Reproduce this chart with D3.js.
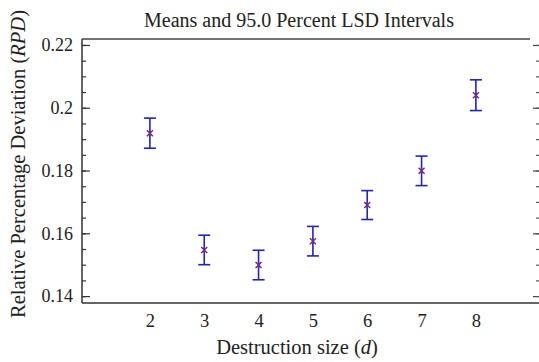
<!DOCTYPE html>
<html>
<head>
<meta charset="utf-8">
<script src="https://cdn.jsdelivr.net/npm/d3@7"></script>
<style>
  body { margin: 0; background: #fff; }
  svg { display: block; font-family: "Liberation Serif", "Times New Roman", serif; }
</style>
</head>
<body>
<div id="chart"></div>
<script>
// destruction sizes and their means with LSD half-width
var sizes = [2, 3, 4, 5, 6, 7, 8];
var means = [0.1919, 0.1547, 0.1499, 0.1575, 0.1690, 0.1799, 0.2040];
var halfLSD = [0.0048, 0.0047, 0.0047, 0.0047, 0.0046, 0.0047, 0.0049];
var yTicks = [0.14, 0.16, 0.18, 0.2, 0.22];
var yTickLabels = ["0.14", "0.16", "0.18", "0.2", "0.22"];
var yMinor = d3.range(0.14, 0.2201, 0.005);

var W = 539, H = 362;
var plotLeft = 82, plotTop = 39, plotBottom = 303;

var svg = d3.select("#chart")
  .append("svg")
  .attr("width", W)
  .attr("height", H);

var x = d3.scaleLinear()
  .domain([0.75, 9.25])
  .range([plotLeft, plotLeft + 8.5 * 54.33]);

var y = d3.scaleLinear()
  .domain([0.1378, 0.2219])
  .range([plotBottom, plotTop]);

// frame: top border line
svg.append("line")
  .attr("x1", plotLeft).attr("x2", 530)
  .attr("y1", plotTop).attr("y2", plotTop)
  .attr("stroke", "#444").attr("stroke-width", 1.5);

// bottom axis, labels only
var xAxis = svg.append("g")
  .attr("transform", "translate(0," + plotBottom + ")")
  .call(d3.axisBottom(x).tickValues(sizes).tickSize(0).tickPadding(11).tickFormat(d3.format("d")))
  .attr("font-family", null).attr("font-size", 18.5);
xAxis.select(".domain").attr("d", "M" + plotLeft + ",0H" + W).attr("stroke", "#333").attr("stroke-width", 1.5);
xAxis.selectAll("text").attr("fill", "#222");

// left axis, ticks pointing in
var yAxis = svg.append("g")
  .attr("transform", "translate(" + plotLeft + ",0)")
  .call(d3.axisLeft(y).tickValues(yTicks).tickSizeInner(-8).tickSizeOuter(0).tickPadding(9)
    .tickFormat(function(d, i) { return yTickLabels[i]; }))
  .attr("font-family", null).attr("font-size", 18);
yAxis.select(".domain").attr("d", "M0," + plotTop + "V" + plotBottom).attr("stroke", "#333").attr("stroke-width", 1.5);
yAxis.selectAll(".tick line").attr("stroke", "#333").attr("stroke-width", 1.2);
yAxis.selectAll("text").attr("fill", "#222");

svg.append("g")
  .attr("transform", "translate(" + plotLeft + ",0)")
  .call(d3.axisLeft(y).tickValues(yMinor).tickSizeInner(-4).tickSizeOuter(0).tickFormat(""))
  .call(function(g) { g.select(".domain").remove(); })
  .selectAll("line").attr("stroke", "#333").attr("stroke-width", 1.2);

// right side ticks
var rMajor = svg.append("g")
  .attr("transform", "translate(539,0)")
  .call(d3.axisLeft(y).tickValues(yTicks).tickSize(6).tickFormat(""));
rMajor.select(".domain").remove();
rMajor.selectAll("line").attr("stroke", "#444").attr("stroke-width", 1.2);

var rMinor = svg.append("g")
  .attr("transform", "translate(539,0)")
  .call(d3.axisLeft(y).tickValues(yMinor).tickSize(3).tickFormat(""));
rMinor.select(".domain").remove();
rMinor.selectAll("line").attr("stroke", "#555").attr("stroke-width", 1.2);

// LSD intervals
var pts = sizes.map(function(s, i) { return {s: s, m: means[i], h: halfLSD[i]}; });
var bars = svg.append("g").attr("stroke", "#2222c0").attr("stroke-width", 1.6).attr("fill", "none");

bars.selectAll(".stem").data(pts).enter().append("line")
  .attr("x1", d => x(d.s)).attr("x2", d => x(d.s))
  .attr("y1", d => y(d.m + d.h)).attr("y2", d => y(d.m - d.h));
bars.selectAll(".capT").data(pts).enter().append("line")
  .attr("x1", d => x(d.s) - 6).attr("x2", d => x(d.s) + 6)
  .attr("y1", d => y(d.m + d.h)).attr("y2", d => y(d.m + d.h));
bars.selectAll(".capB").data(pts).enter().append("line")
  .attr("x1", d => x(d.s) - 6).attr("x2", d => x(d.s) + 6)
  .attr("y1", d => y(d.m - d.h)).attr("y2", d => y(d.m - d.h));

// mean markers (small asterisk)
svg.append("g").selectAll("path").data(pts).enter().append("path")
  .attr("d", function(d) {
    var cx = x(d.s), cy = y(d.m), r = 3;
    return "M" + (cx - r) + "," + (cy - r) + "L" + (cx + r) + "," + (cy + r) +
      "M" + (cx - r) + "," + (cy + r) + "L" + (cx + r) + "," + (cy - r) +
      "M" + cx + "," + (cy - r) + "L" + cx + "," + (cy + r);
  })
  .attr("stroke", "#6a3080").attr("stroke-width", 1.5).attr("fill", "none");

// title
svg.append("text")
  .attr("x", 299).attr("y", 27)
  .attr("text-anchor", "middle")
  .attr("font-size", 20).attr("fill", "#222")
  .text("Means and 95.0 Percent LSD Intervals");

// x axis title
var xt = svg.append("text")
  .attr("x", 297).attr("y", 354)
  .attr("text-anchor", "middle")
  .attr("font-size", 20.5).attr("fill", "#222");
xt.append("tspan").text("Destruction size (");
xt.append("tspan").attr("font-style", "italic").text("d");
xt.append("tspan").text(")");

// y axis title
var yt = svg.append("text")
  .attr("transform", "translate(25,164) rotate(-90)")
  .attr("text-anchor", "middle")
  .attr("font-size", 20.5).attr("fill", "#222");
yt.append("tspan").text("Relative Percentage Deviation (");
yt.append("tspan").attr("font-style", "italic").text("RPD");
yt.append("tspan").text(")");
</script>
</body>
</html>
